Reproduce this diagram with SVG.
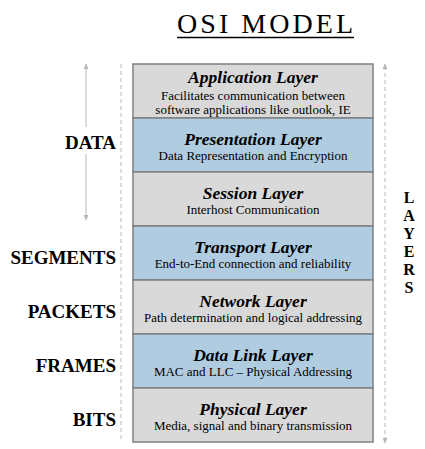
<svg xmlns="http://www.w3.org/2000/svg" width="425" height="449" viewBox="0 0 425 449">
<style>
.layer{stroke:#808080;stroke-width:1.5}
.g{fill:#d9d9d9}
.b{fill:#b0cce0}
.t{font-weight:bold;font-style:italic;font-size:17.5px;text-anchor:middle;fill:#000}
.d{font-size:13px;text-anchor:middle;fill:#000}
.lbl{font-weight:bold;font-size:19px;text-anchor:end;fill:#000}
.v{font-weight:bold;font-size:16px;text-anchor:middle;fill:#000}
.conn{stroke:#b8b8b8;stroke-width:1;fill:none}
</style>
<defs>
<marker id="ah" viewBox="0 0 10 10" refX="5" refY="5" markerWidth="6" markerHeight="6" orient="auto-start-reverse">
<path d="M0,1 L10,5 L0,9 z" fill="#b8b8b8"/>
</marker>
</defs>
<rect width="425" height="449" fill="#fff"/>
<g font-family="Liberation Serif, serif">
<g id="title">
<text x="265" y="33" font-size="28" text-anchor="middle" textLength="176" lengthAdjust="spacing">OSI MODEL</text>
<line x1="177" y1="37.5" x2="354" y2="37.5" stroke="#000" stroke-width="1.5"/>
</g>
<g id="connectors">
<line class="conn" x1="86" y1="127" x2="86" y2="66" marker-end="url(#ah)"/>
<line class="conn" x1="86" y1="154" x2="86" y2="218" marker-end="url(#ah)"/>
<line class="conn" x1="121" y1="64" x2="121" y2="440" stroke-dasharray="4,3"/>
<line class="conn" x1="385" y1="66" x2="385" y2="441" stroke-dasharray="4,3" marker-start="url(#ah)" marker-end="url(#ah)"/>
</g>
<g id="application">
<rect class="layer g" x="133" y="64" width="240" height="54"/>
<text class="t" x="253" y="83">Application Layer</text>
<text class="d" x="253" y="100">Facilitates communication between</text>
<text class="d" x="253" y="113.5">software applications like outlook, IE</text>
</g>
<g id="presentation">
<rect class="layer b" x="133" y="118" width="240" height="54"/>
<text class="t" x="253" y="145">Presentation Layer</text>
<text class="d" x="253" y="160">Data Representation and Encryption</text>
</g>
<g id="session">
<rect class="layer g" x="133" y="172" width="240" height="54"/>
<text class="t" x="253" y="199">Session Layer</text>
<text class="d" x="253" y="214">Interhost Communication</text>
</g>
<g id="transport">
<rect class="layer b" x="133" y="226" width="240" height="54"/>
<text class="t" x="253" y="253">Transport Layer</text>
<text class="d" x="253" y="268">End-to-End connection and reliability</text>
</g>
<g id="network">
<rect class="layer g" x="133" y="280" width="240" height="54"/>
<text class="t" x="253" y="307">Network Layer</text>
<text class="d" x="253" y="322">Path determination and logical addressing</text>
</g>
<g id="datalink">
<rect class="layer b" x="133" y="334" width="240" height="54"/>
<text class="t" x="253" y="361">Data Link Layer</text>
<text class="d" x="253" y="376">MAC and LLC – Physical Addressing</text>
</g>
<g id="physical">
<rect class="layer g" x="133" y="388" width="240" height="54"/>
<text class="t" x="253" y="415">Physical Layer</text>
<text class="d" x="253" y="430">Media, signal and binary transmission</text>
</g>
<g id="labels">
<text class="lbl" x="116" y="149">DATA</text>
<text class="lbl" x="116" y="264">SEGMENTS</text>
<text class="lbl" x="116" y="318">PACKETS</text>
<text class="lbl" x="116" y="372">FRAMES</text>
<text class="lbl" x="116" y="426">BITS</text>
</g>
<g id="layers-label">
<text class="v" x="409" y="203">L</text>
<text class="v" x="409" y="221">A</text>
<text class="v" x="409" y="239">Y</text>
<text class="v" x="409" y="257">E</text>
<text class="v" x="409" y="275">R</text>
<text class="v" x="409" y="293">S</text>
</g>
</g>
</svg>
